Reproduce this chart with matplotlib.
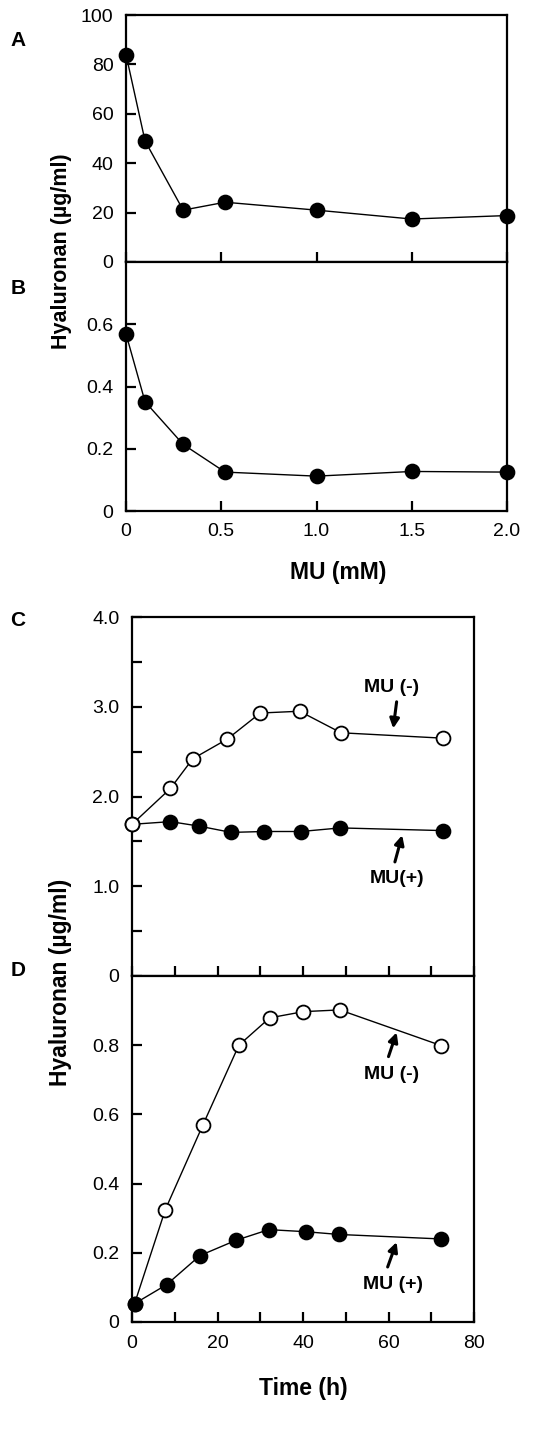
import matplotlib
matplotlib.use('Agg')
from matplotlib import pyplot as plt

plt.rcParams['font.family'] = ['Liberation Sans', 'DejaVu Sans']

# MU dose response (A: medium, B: cell layer)
mu_dose = [0, 0.1, 0.3, 0.52, 1.0, 1.5, 2.0]
ha_medium = [84, 49, 21, 24.2, 21, 17.4, 18.8]
ha_cell = [0.569, 0.351, 0.214, 0.125, 0.112, 0.127, 0.125]

# time course (C: medium, D: cell layer)
t_c_minus = [0, 9, 14.2, 22.3, 30, 39.2, 48.9, 72.7]
c_minus = [1.69, 2.09, 2.42, 2.64, 2.93, 2.95, 2.71, 2.65]
t_c_plus = [0, 9, 15.7, 23.2, 30.9, 39.5, 48.7, 72.8]
c_plus = [1.69, 1.72, 1.67, 1.60, 1.61, 1.61, 1.65, 1.62]
t_d_minus = [0.6, 7.8, 16.6, 25, 32.2, 40.1, 48.6, 72.3]
d_minus = [0.053, 0.325, 0.570, 0.800, 0.879, 0.897, 0.902, 0.799]
t_d_plus = [0.6, 8.1, 15.9, 24.3, 32, 40.6, 48.4, 72.3]
d_plus = [0.053, 0.108, 0.192, 0.236, 0.267, 0.261, 0.253, 0.240]

dose_ticks = [0, 0.5, 1.0, 1.5, 2.0]
dose_labels = ['0', '0.5', '1.0', '1.5', '2.0']
a_ticks = [0, 20, 40, 60, 80, 100]
a_labels = ['0', '20', '40', '60', '80', '100']
b_ticks = [0, 0.2, 0.4, 0.6]
b_labels = ['0', '0.2', '0.4', '0.6']
c_ticks = [0, 0.5, 1.0, 1.5, 2.0, 2.5, 3.0, 3.5, 4.0]
c_labels = ['0', '', '1.0', '', '2.0', '', '3.0', '', '4.0']
d_ticks = [0, 0.2, 0.4, 0.6, 0.8]
d_labels = ['0', '0.2', '0.4', '0.6', '0.8']
time_ticks = [0, 20, 40, 60, 80]
time_labels = ['0', '20', '40', '60', '80']
time_minor = [10, 30, 50, 70]

W, H = 558, 1429
fig = plt.figure(figsize=(W / 100, H / 100), dpi=100)


def painel(x0, x1, y0, y1):
    # caixa em pixels -> fração da figura
    ax = fig.add_axes([x0 / W, 1 - y1 / H, (x1 - x0) / W, (y1 - y0) / H])
    for s in ax.spines.values():
        s.set_linewidth(1.6)
    ax.tick_params(which='both', direction='in', length=7, width=1.6,
                   labelsize=14, pad=9, top=False, right=False)
    return ax


def serie(ax, x, y, aberto=False, z=3):
    ax.plot(x, y, '-', color='black', lw=1.0, marker='o', ms=10,
            mfc='white' if aberto else 'black', mec='black', mew=1.3,
            clip_on=False, zorder=z)


def seta(ax, texto, pos_texto, cauda, ponta):
    ax.text(pos_texto[0], pos_texto[1], texto, ha='center', va='center',
            fontsize=14, fontweight='bold')
    ax.annotate('', xy=ponta, xytext=cauda,
                arrowprops=dict(arrowstyle='-|>', color='black', lw=2.2,
                                mutation_scale=14, shrinkA=0, shrinkB=0))


# A
axA = painel(126, 507, 15, 262)
serie(axA, mu_dose, ha_medium)
axA.set_xlim(0, 2.0)
axA.set_ylim(0, 100)
axA.set_yticks(a_ticks)
axA.set_yticklabels(a_labels)
axA.set_xticks(dose_ticks)
axA.set_xticklabels([])

# B
axB = painel(126, 507, 262, 511)
serie(axB, mu_dose, ha_cell)
axB.set_xlim(0, 2.0)
axB.set_ylim(0, 0.8)
axB.set_yticks(b_ticks)
axB.set_yticklabels(b_labels)
axB.set_xticks(dose_ticks)
axB.set_xticklabels(dose_labels)

# C
axC = painel(132, 474, 617, 976)
serie(axC, t_c_plus, c_plus, z=3)
serie(axC, t_c_minus, c_minus, aberto=True, z=4)
axC.set_xlim(0, 80)
axC.set_ylim(0, 4.0)
axC.set_yticks(c_ticks)
axC.set_yticklabels(c_labels)
axC.set_xticks(time_ticks)
axC.set_xticks(time_minor, minor=True)
axC.set_xticklabels([])
seta(axC, 'MU (-)', (60.8, 3.22), (61.9, 3.055), (61.1, 2.758))
seta(axC, 'MU(+)', (62.1, 1.086), (61.5, 1.271), (63.2, 1.569))

# D
axD = painel(132, 474, 976, 1322)
serie(axD, t_d_minus, d_minus, aberto=True, z=3)
serie(axD, t_d_plus, d_plus, z=4)
axD.set_xlim(0, 80)
axD.set_ylim(0, 1.0)
axD.set_yticks(d_ticks)
axD.set_yticklabels(d_labels)
axD.set_xticks(time_ticks)
axD.set_xticks(time_minor, minor=True)
axD.set_xticklabels(time_labels)
seta(axD, 'MU (-)', (60.8, 0.715), (60.0, 0.767), (61.9, 0.837))
seta(axD, 'MU (+)', (61.1, 0.109), (59.8, 0.159), (61.9, 0.231))

# rótulos comuns e letras dos painéis
fig.text(61 / W, 1 - 251 / H, 'Hyaluronan (µg/ml)', rotation=90,
         ha='center', va='center', fontsize=15.5, fontweight='bold')
fig.text(61 / W, 1 - 982 / H, 'Hyaluronan (µg/ml)', rotation=90,
         ha='center', va='center', fontsize=16.5, fontweight='bold')
fig.text(338 / W, 1 - 572 / H, 'MU (mM)', ha='center', va='center',
         fontsize=16.5, fontweight='bold')
fig.text(303 / W, 1 - 1388 / H, 'Time (h)', ha='center', va='center',
         fontsize=16.5, fontweight='bold')
for letra, (px, py) in zip('ABCD', [(18, 40), (18, 288), (18, 620), (18, 970)]):
    fig.text(px / W, 1 - py / H, letra, ha='center', va='center',
             fontsize=15, fontweight='bold')

plt.savefig('out.png', dpi=100)
